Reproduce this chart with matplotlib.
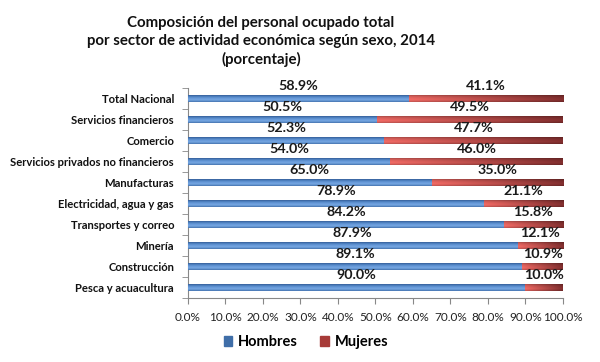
import numpy as np
import matplotlib
matplotlib.use("Agg")
import matplotlib.pyplot as plt
from matplotlib.colors import LinearSegmentedColormap
from matplotlib.patches import Patch

categories = ["Total Nacional", "Servicios financieros", "Comercio",
              "Servicios privados no financieros", "Manufacturas",
              "Electricidad, agua y gas", "Transportes y correo", "Minería",
              "Construcción", "Pesca y acuacultura"]
hombres = [58.9, 50.5, 52.3, 54.0, 65.0, 78.9, 84.2, 87.9, 89.1, 90.0]
mujeres = [41.1, 49.5, 47.7, 46.0, 35.0, 21.1, 15.8, 12.1, 10.9, 10.0]
xticks = list(range(0, 101, 10))
title = ("Composición del personal ocupado total\n"
         "por sector de actividad económica según sexo, 2014\n(porcentaje)")

plt.rcParams['font.family'] = ['Lato', 'DejaVu Sans']

fig = plt.figure(figsize=(6, 3.62), dpi=100)
ax = fig.add_axes([0.3133, 0.177, 0.625, 0.58])

y = np.arange(len(categories))
bh = 0.34
bars_h = ax.barh(y, hombres, height=bh, color="#4a7dbb", zorder=2)
bars_m = ax.barh(y, mujeres, left=hombres, height=bh, color="#b84643", zorder=2)

# gradient shading clipped to bars
vert = np.linspace(0, 1, 32)
blue_cmap = LinearSegmentedColormap.from_list(
    "b", ["#24467a", "#4677b6", "#6598d8", "#76a7e2", "#4573b0"])
for p in bars_h:
    x0, y0, w, h = p.get_x(), p.get_y(), p.get_width(), p.get_height()
    im = ax.imshow(vert[:, None], cmap=blue_cmap, aspect="auto",
                   extent=(x0, x0 + w, y0 + h, y0), origin="upper",
                   zorder=3, interpolation="bilinear")
    im.set_clip_path(p)

red_l = np.array([[0.91, 0.40, 0.38]])
red_r = np.array([[0.50, 0.18, 0.18]])
for p in bars_m:
    x0, y0, w, h = p.get_x(), p.get_y(), p.get_width(), p.get_height()
    hx = np.linspace(0, 1, 64)[None, :, None]
    base = red_l[None] * (1 - hx) + red_r[None] * hx
    v = np.array([0.6, 0.88, 1.0, 1.05, 0.82])
    vv = np.interp(np.linspace(0, 1, 32), np.linspace(0, 1, len(v)), v)[:, None, None]
    img = np.clip(base * vv, 0, 1)
    im = ax.imshow(img[::-1], aspect="auto",
                   extent=(x0, x0 + w, y0 + h, y0), origin="lower",
                   zorder=3, interpolation="bilinear")
    im.set_clip_path(p)

for i, (hv, mv) in enumerate(zip(hombres, mujeres)):
    ax.text(hv / 2, i - 0.6, f"{hv:.1f}%", ha="center", va="center",
            fontsize=10.3, fontweight="bold", color="#1a1a1a", zorder=4)
    ax.text(hv + mv / 2, i - 0.6, f"{mv:.1f}%", ha="center", va="center",
            fontsize=10.3, fontweight="bold", color="#1a1a1a", zorder=4)

ax.set_xlim(0, 100)
ax.set_ylim(len(categories) - 0.5, -0.5)
ax.set_xticks(xticks)
ax.set_xticklabels([f"{t:.1f}%" for t in xticks], fontsize=8.5, color="#222222")
ax.set_yticks(y)
ax.set_yticklabels(categories, fontsize=8.1, fontweight="bold", color="#111111")
ax.set_yticks(np.arange(-0.5, len(categories), 1), minor=True)
ax.tick_params(axis="y", which="major", length=0, pad=10)
ax.tick_params(axis="y", which="minor", length=4, color="#888888", direction="out")
ax.tick_params(axis="x", length=4, color="#888888", pad=6)
for s in ["top", "right"]:
    ax.spines[s].set_visible(False)
for s in ["left", "bottom"]:
    ax.spines[s].set_color("#888888")
    ax.spines[s].set_linewidth(0.8)

fig.text(0.435, 0.955, title, ha="center", va="top", fontsize=10.8,
         fontweight="bold", linespacing=1.32, color="#111111")

handles = [Patch(color="#3f6ea8", label="Hombres"),
           Patch(color="#a73b38", label="Mujeres")]
fig.legend(handles=handles, loc="center", bbox_to_anchor=(0.51, 0.055),
           ncol=2, frameon=False, handlelength=0.6,
           handleheight=0.6, columnspacing=1.5, handletextpad=0.4,
           prop={"weight": "bold", "size": 10.5})

fig.savefig("out.png", dpi=100)
